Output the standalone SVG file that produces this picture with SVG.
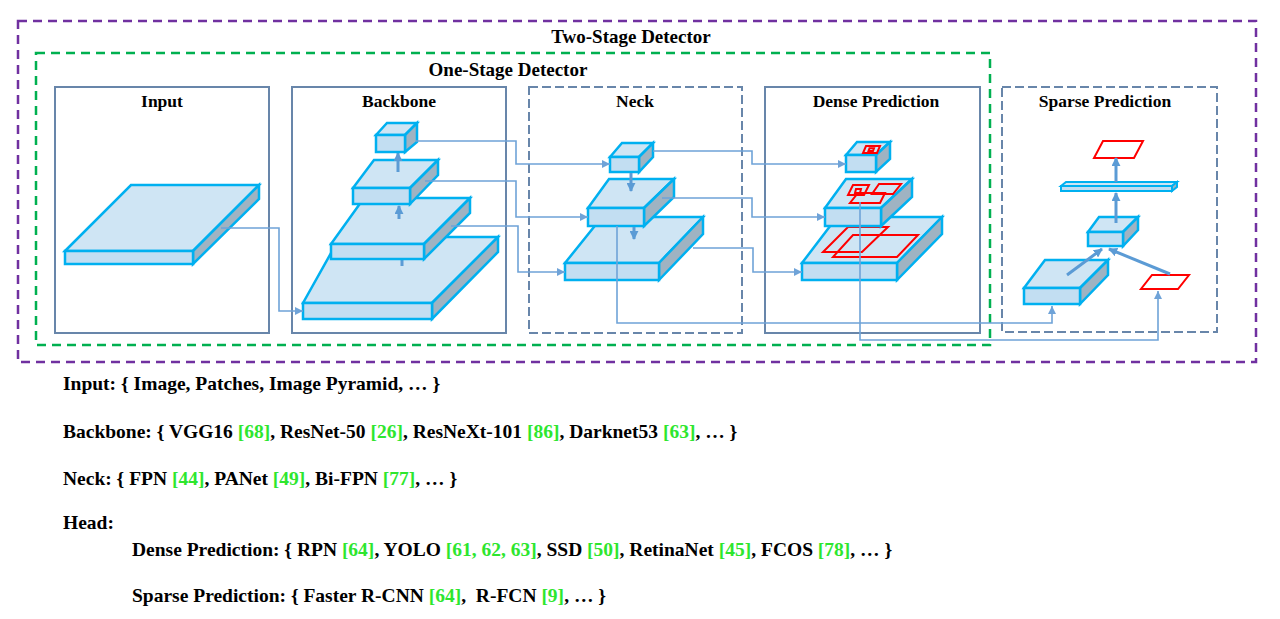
<svg xmlns="http://www.w3.org/2000/svg" width="1280" height="619" viewBox="0 0 1280 619">
<style>
  .title{font-family:"Liberation Serif","Times New Roman",serif;font-weight:bold;font-size:19px;fill:#000;text-anchor:middle}
  .ptitle{font-family:"Liberation Serif","Times New Roman",serif;font-weight:bold;font-size:17.5px;fill:#000;text-anchor:middle}
  .desc{font-family:"Liberation Serif","Times New Roman",serif;font-weight:bold;font-size:19.5px;fill:#000}
  .ref{fill:#2ee62e}
  .panel{fill:none;stroke:#6886aa;stroke-width:2}
  .dpanel{fill:none;stroke:#6886aa;stroke-width:2;stroke-dasharray:9 4}
  .top{fill:#cfe5f4;stroke:#00b0f0;stroke-width:2.5;stroke-linejoin:miter}
  .front{fill:#c2def2;stroke:#00b0f0;stroke-width:2.5}
  .side{fill:#9fb3c2;stroke:#00b0f0;stroke-width:2.5}
  .red{fill:none;stroke:#ff0000;stroke-width:2}
  .conn{fill:none;stroke:#6fa3d8;stroke-width:1.6}
  .thick{fill:none;stroke:#5b9bd5;stroke-width:3}
</style>
<defs>
  <marker id="ah" viewBox="0 0 10 10" refX="10" refY="5" markerWidth="5" markerHeight="5" orient="auto" markerUnits="strokeWidth">
    <path d="M0,0 L10,5 L0,10 z" fill="#6fa3d8"/>
  </marker>
  <marker id="ahb" viewBox="0 0 10 10" refX="9" refY="5" markerWidth="3" markerHeight="3" orient="auto" markerUnits="strokeWidth">
    <path d="M0,0 L10,5 L0,10 z" fill="#5b9bd5"/>
  </marker>
</defs>
<rect width="1280" height="619" fill="#ffffff"/>

<g id="two-stage">
  <rect x="18" y="21" width="1238" height="341" fill="none" stroke="#7030a0" stroke-width="2.5" stroke-dasharray="9 6"/>
  <text class="title" x="631" y="43">Two-Stage Detector</text>
</g>
<g id="one-stage">
  <rect x="36" y="53" width="954" height="292" fill="none" stroke="#00b050" stroke-width="2.5" stroke-dasharray="9 6"/>
  <text class="title" x="508" y="76">One-Stage Detector</text>
</g>

<g id="input">
  <rect class="panel" x="55" y="87" width="214" height="246"/>
  <text class="ptitle" x="162" y="107">Input</text>
  <polygon class="top" points="65,251 131,185 259,185 193,251"/>
  <polygon class="side" points="193,251 259,185 259,199 193,264"/>
  <rect class="front" x="65" y="251" width="128" height="13"/>
</g>

<g id="backbone">
  <rect class="panel" x="292" y="87" width="214" height="246"/>
  <text class="ptitle" x="399" y="107">Backbone</text>
  <polygon class="top" points="303,303 340,237 498,237 432,303"/>
  <polygon class="side" points="432,303 498,237 498,252 432,319"/>
  <rect class="front" x="303" y="303" width="129" height="16"/>
  <line class="thick" x1="402" y1="259" x2="402" y2="266"/>
  <polygon class="top" points="331,244 364,198 470,198 424,244"/>
  <polygon class="side" points="424,244 470,198 470,213 424,259"/>
  <rect class="front" x="331" y="244" width="93" height="15"/>
  <line class="thick" x1="399" y1="219" x2="399" y2="206" marker-end="url(#ahb)"/>
  <polygon class="top" points="353,188 374,160 438,160 410,188"/>
  <polygon class="side" points="410,188 438,160 438,175 410,204"/>
  <rect class="front" x="353" y="188" width="57" height="16"/>
  <line class="thick" x1="398" y1="172" x2="398" y2="153" marker-end="url(#ahb)"/>
  <polygon class="top" points="376,135 387,123 417,123 405,135"/>
  <polygon class="side" points="405,135 417,123 417,142 405,152"/>
  <rect class="front" x="376" y="135" width="29" height="17"/>
</g>

<g id="neck">
  <rect class="dpanel" x="529" y="87" width="213" height="246"/>
  <text class="ptitle" x="635" y="107">Neck</text>
  <polygon class="top" points="565,263 602,217 703,217 659,263"/>
  <polygon class="side" points="659,263 703,217 703,234 659,280"/>
  <rect class="front" x="565" y="263" width="94" height="17"/>
  <polygon class="top" points="588,208 609,179 674,179 644,208"/>
  <polygon class="side" points="644,208 674,179 674,197 644,226"/>
  <rect class="front" x="588" y="208" width="56" height="18"/>
  <polygon class="top" points="610,157 622,143 653,143 639,157"/>
  <polygon class="side" points="639,157 653,143 653,157 639,172"/>
  <rect class="front" x="610" y="157" width="29" height="15"/>
  <line class="thick" x1="631" y1="173" x2="631" y2="191" marker-end="url(#ahb)"/>
  <line class="thick" x1="634" y1="227" x2="634" y2="239" marker-end="url(#ahb)"/>
</g>

<g id="dense-prediction">
  <rect class="panel" x="765" y="87" width="215" height="246"/>
  <text class="ptitle" x="876" y="107">Dense Prediction</text>
  <polygon class="top" points="802,263 837,217 942,217 897,263"/>
  <polygon class="side" points="897,263 942,217 942,234 897,280"/>
  <rect class="front" x="802" y="263" width="95" height="17"/>
  <polygon class="red" points="848,227 888,227 862,252 823,252"/>
  <polygon class="red" points="853,235 918,235 897,257 833,257"/>
  <polygon class="top" points="825,208 846,179 912,179 881,208"/>
  <polygon class="side" points="881,208 912,179 912,197 881,226"/>
  <rect class="front" x="825" y="208" width="56" height="18"/>
  <polygon class="red" points="853,185 869,185 864,195 848,195"/>
  <polygon class="red" points="856,189 861,189 860,193 855,193"/>
  <polygon class="red" points="879,184 901,184 893,194 872,194"/>
  <polygon class="red" points="858,193 885,193 880,203 850,203"/>
  <polygon class="top" points="846,155 857,142 890,142 876,155"/>
  <polygon class="side" points="876,155 890,142 890,159 876,172"/>
  <rect class="front" x="846" y="155" width="30" height="17"/>
  <polygon class="red" points="866,146 880,146 877,153 863,153"/>
  <polygon class="red" points="869.5,148.3 874,148.3 873,151 868.5,151"/>
</g>

<g id="sparse-prediction">
  <rect class="dpanel" x="1002" y="87" width="215" height="245"/>
  <text class="ptitle" x="1105" y="107">Sparse Prediction</text>
  <polygon class="top" points="1024,288 1045,260 1108,260 1080,288"/>
  <polygon class="side" points="1080,288 1108,260 1108,275 1080,304"/>
  <rect class="front" x="1024" y="288" width="56" height="16"/>
  <polygon class="red" points="1152,275 1189,275 1178,289 1141,289"/>
  <polygon class="top" points="1088,232 1099,217 1138,217 1123,232"/>
  <polygon class="side" points="1123,232 1138,217 1138,230 1123,246"/>
  <rect class="front" x="1088" y="232" width="35" height="14"/>
  <polygon class="top" points="1061,186 1066,182 1177,182 1172,186" style="stroke-width:2"/>
  <polygon class="side" points="1172,186 1177,182 1177,187 1172,191" style="stroke-width:2"/>
  <rect class="front" x="1061" y="186" width="111" height="5" style="stroke-width:2"/>
  <polygon class="red" points="1103,141 1143,141 1134,158 1094,158"/>
  <line class="thick" x1="1067" y1="275" x2="1102" y2="249" marker-end="url(#ahb)"/>
  <line class="thick" x1="1170" y1="274" x2="1109" y2="249" marker-end="url(#ahb)"/>
  <line class="thick" x1="1116" y1="223" x2="1116" y2="193" marker-end="url(#ahb)"/>
  <line class="thick" x1="1116" y1="182" x2="1116" y2="158" marker-end="url(#ahb)"/>
</g>

<g id="connectors">
  <path class="conn" d="M221,228 H279 V311 H303" marker-end="url(#ah)"/>
  <path class="conn" d="M416,141 H516 V164 H610" marker-end="url(#ah)"/>
  <path class="conn" d="M425,181 H516 V217 H588" marker-end="url(#ah)"/>
  <path class="conn" d="M451,226 H518 V272 H565" marker-end="url(#ah)"/>
  <path class="conn" d="M653,151 H752 V164 H846" marker-end="url(#ah)"/>
  <path class="conn" d="M662,198 H752 V217 H825" marker-end="url(#ah)"/>
  <path class="conn" d="M693,248 H753 V272 H802" marker-end="url(#ah)"/>
  <path class="conn" d="M617,226 V323 H1052 V306" marker-end="url(#ah)"/>
  <path class="conn" d="M860,202 V340 H1158 V291" marker-end="url(#ah)"/>
</g>

<g id="legend">
  <text class="desc" x="63" y="390">Input: { Image, Patches, Image Pyramid, … }</text>
  <text class="desc" x="63" y="438">Backbone: { VGG16 <tspan class="ref">[68]</tspan>, ResNet-50 <tspan class="ref">[26]</tspan>, ResNeXt-101 <tspan class="ref">[86]</tspan>, Darknet53 <tspan class="ref">[63]</tspan>, … }</text>
  <text class="desc" x="63" y="485">Neck: { FPN <tspan class="ref">[44]</tspan>, PANet <tspan class="ref">[49]</tspan>, Bi-FPN <tspan class="ref">[77]</tspan>, … }</text>
  <text class="desc" x="63" y="529">Head:</text>
  <text class="desc" x="132" y="556">Dense Prediction: { RPN <tspan class="ref">[64]</tspan>, YOLO <tspan class="ref">[61, 62, 63]</tspan>, SSD <tspan class="ref">[50]</tspan>, RetinaNet <tspan class="ref">[45]</tspan>, FCOS <tspan class="ref">[78]</tspan>, … }</text>
  <text class="desc" x="132" y="602" xml:space="preserve">Sparse Prediction: { Faster R-CNN <tspan class="ref">[64]</tspan>,  R-FCN <tspan class="ref">[9]</tspan>, … }</text>
</g>
</svg>
